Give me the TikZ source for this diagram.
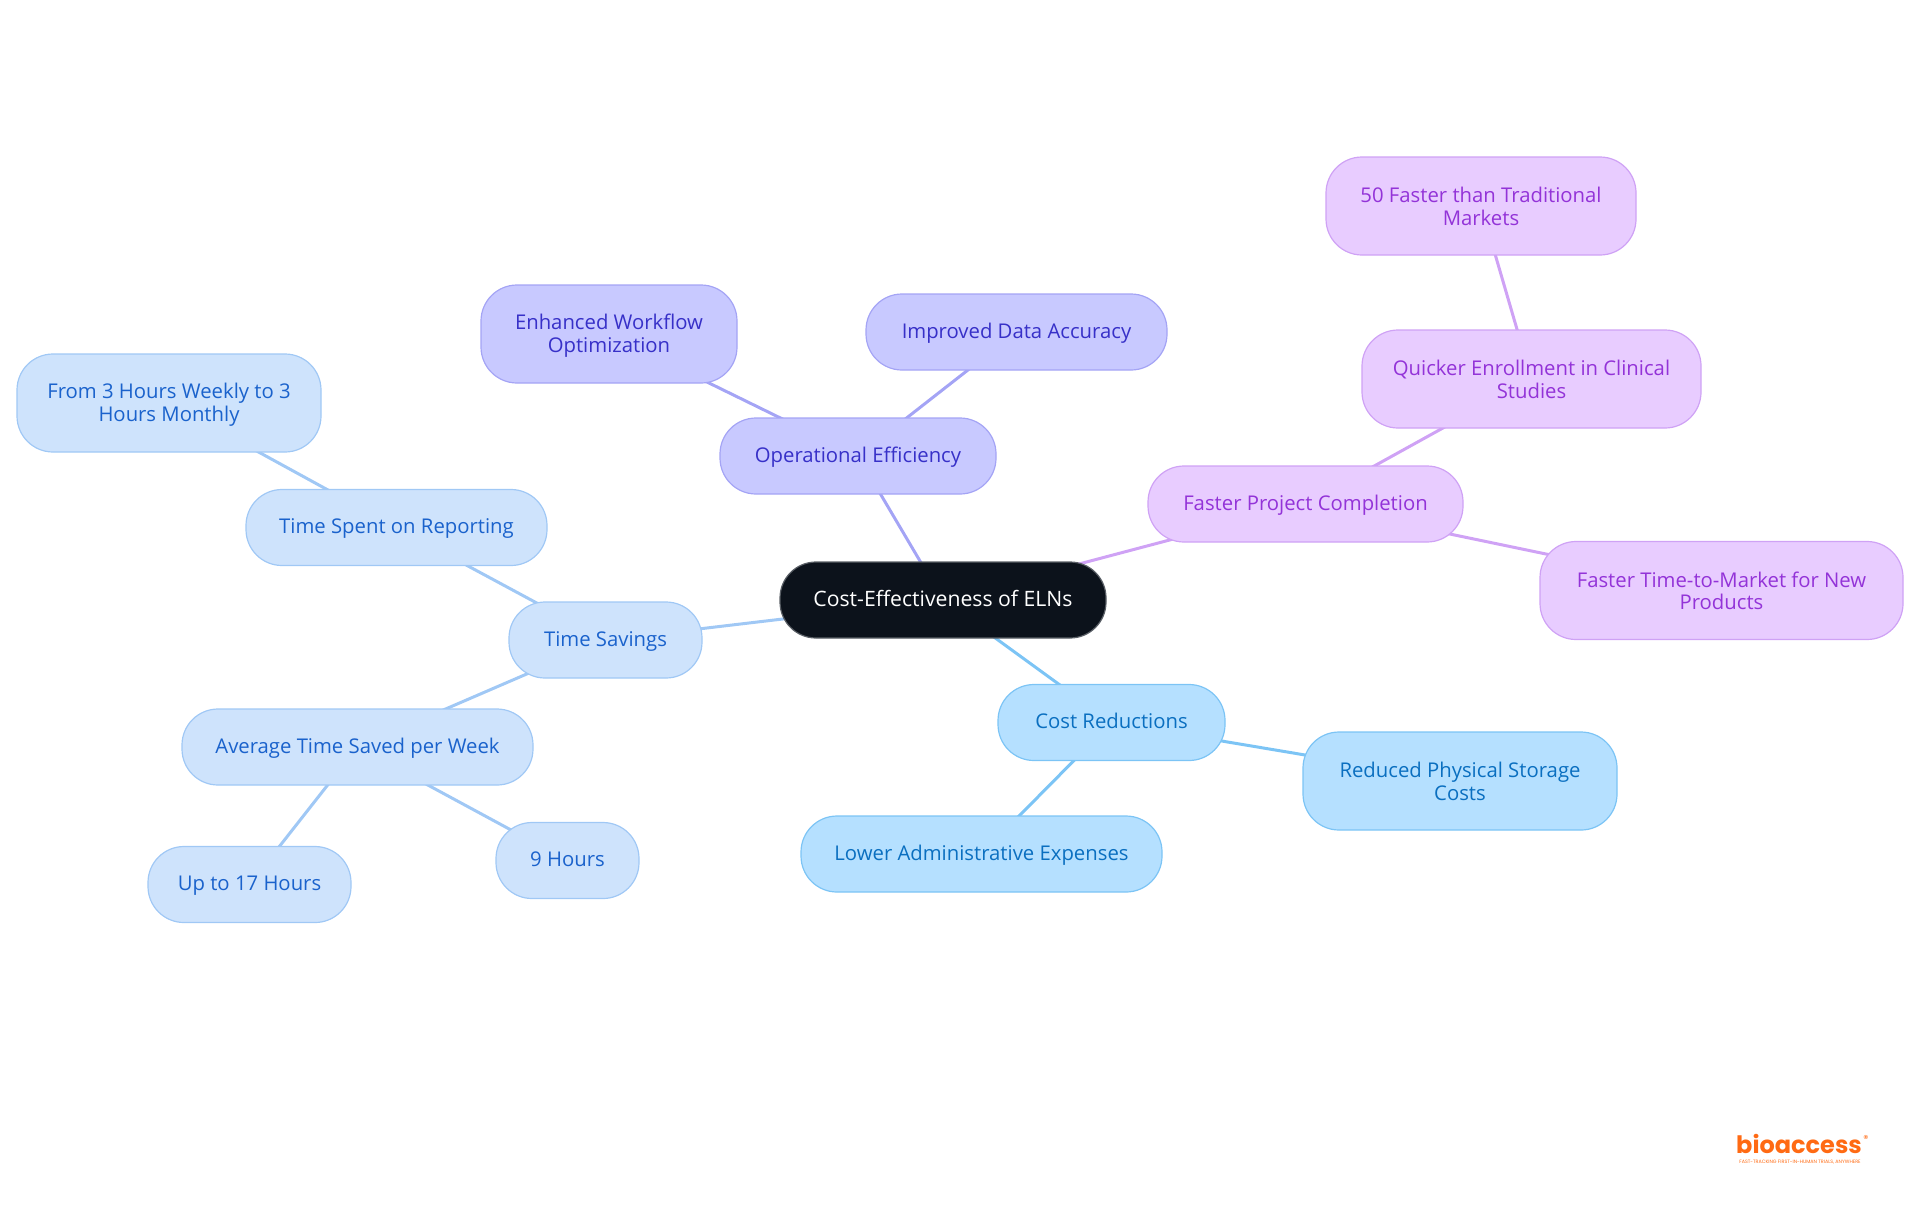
\documentclass[tikz,border=0pt]{standalone}
\usepackage{fontspec}
\setmainfont{Open Sans}
\newfontfamily\logofont{Poppins}
\usetikzlibrary{backgrounds}
\definecolor{rootfill}{HTML}{0C121B}
\definecolor{rootline}{HTML}{5A5F66}
\definecolor{savefill}{HTML}{CEE3FC}
\definecolor{saveline}{HTML}{A0C8F5}
\definecolor{savetext}{HTML}{1A62CC}
\definecolor{costfill}{HTML}{B5E0FF}
\definecolor{costline}{HTML}{7CC4F5}
\definecolor{costtext}{HTML}{0A6FC0}
\definecolor{operfill}{HTML}{C8C9FF}
\definecolor{operline}{HTML}{A4A4F5}
\definecolor{opertext}{HTML}{3730C8}
\definecolor{fastfill}{HTML}{E8CCFF}
\definecolor{fastline}{HTML}{CFA2F5}
\definecolor{fasttext}{HTML}{9333D8}
\definecolor{logoorange}{HTML}{FF6A13}
\newcommand{\twolines}[2]{\rule{0pt}{9.4pt}#1\\#2\rule[-1.5pt]{0pt}{1.5pt}}
\tikzset{
    topic/.style={rectangle, rounded corners=18pt, line width=0.6pt, align=center, inner sep=0pt,
        minimum height=38pt, text height=8pt, text depth=2pt, font=\fontsize{10.15}{11.4}\selectfont},
    tall/.style={minimum height=49pt, text height=, text depth=},
    rootbox/.style={topic, fill=rootfill, draw=rootline, text=white, font=\fontsize{10.6}{11.4}\selectfont},
    savebox/.style={topic, fill=savefill, draw=saveline, text=savetext},
    costbox/.style={topic, fill=costfill, draw=costline, text=costtext},
    operbox/.style={topic, fill=operfill, draw=operline, text=opertext},
    fastbox/.style={topic, fill=fastfill, draw=fastline, text=fasttext},
    branch/.style={line width=1.5pt}
}
\begin{document}
\begin{tikzpicture}[x=0.5pt, y=-0.5pt]
        \useasboundingbox (0, 0) rectangle (1920, 1215);

        \node[rootbox, minimum width=163pt] (root) at (943, 600) {Cost-Effectiveness of ELNs};

        \node[operbox, minimum width=138pt] (oper) at (858, 456) {Operational Efficiency};
        \node[operbox, tall, minimum width=128pt] (workflow) at (609, 334) {\twolines{Enhanced Workflow}{Optimization}};
        \node[operbox, minimum width=150.5pt] (accuracy) at (1016.5, 332) {Improved Data Accuracy};

        \node[fastbox, minimum width=157.5pt] (fast) at (1305.5, 504) {Faster Project Completion};
        \node[fastbox, tall, minimum width=169.5pt] (enroll) at (1531.5, 379) {\twolines{Quicker Enrollment in Clinical}{Studies}};
        \node[fastbox, tall, minimum width=155pt] (markets) at (1481, 206) {\twolines{50 Faster than Traditional}{Markets}};
        \node[fastbox, tall, minimum width=181.5pt] (market) at (1721.5, 590.5) {\twolines{Faster Time-to-Market for New}{Products}};

        \node[costbox, minimum width=113.5pt] (cost) at (1111.5, 722.5) {Cost Reductions};
        \node[costbox, tall, minimum width=157pt] (storage) at (1460, 781) {\twolines{Reduced Physical Storage}{Costs}};
        \node[costbox, minimum width=180.5pt] (admin) at (981.5, 854) {Lower Administrative Expenses};

        \node[savebox, minimum width=96.5pt] (save) at (605.5, 640) {Time Savings};
        \node[savebox, minimum width=150.5pt] (report) at (396.5, 527.5) {Time Spent on Reporting};
        \node[savebox, tall, minimum width=152pt] (hours) at (169, 403) {\twolines{From 3 Hours Weekly to 3}{Hours Monthly}};
        \node[savebox, minimum width=175.5pt] (average) at (357.5, 747) {Average Time Saved per Week};
        \node[savebox, minimum width=101.5pt] (upto) at (249.5, 884.5) {Up to 17 Hours};
        \node[savebox, minimum width=71.5pt] (nine) at (567.5, 860.5) {9 Hours};

        \node[text=logoorange, inner sep=0pt, font=\logofont\bfseries\fontsize{12}{12}\selectfont] (logo) at (1799, 1144) {bioaccess};
        \node[text=logoorange, inner sep=0pt, font=\logofont\fontsize{5}{5}\selectfont] (logomark) at (1866, 1139) {®};
        \node[text=logoorange, inner sep=0pt, font=\logofont\fontsize{2.4}{3}\selectfont] (tagline) at (1800, 1162) {FAST-TRACKING FIRST-IN-HUMAN TRIALS, ANYWHERE};

        \begin{scope}[on background layer]
            \draw[branch, operline] (root.center) -- (oper.center);
            \draw[branch, operline] (oper.center) -- (workflow.center);
            \draw[branch, operline] (oper.center) -- (accuracy.center);
            \draw[branch, fastline] (root.center) -- (fast.center);
            \draw[branch, fastline] (fast.center) -- (enroll.center);
            \draw[branch, fastline] (enroll.center) -- (markets.center);
            \draw[branch, fastline] (fast.center) -- (market.center);
            \draw[branch, costline] (root.center) -- (cost.center);
            \draw[branch, costline] (cost.center) -- (storage.center);
            \draw[branch, costline] (cost.center) -- (admin.center);
            \draw[branch, saveline] (root.center) -- (save.center);
            \draw[branch, saveline] (save.center) -- (report.center);
            \draw[branch, saveline] (report.center) -- (hours.center);
            \draw[branch, saveline] (save.center) -- (average.center);
            \draw[branch, saveline] (average.center) -- (upto.center);
            \draw[branch, saveline] (average.center) -- (nine.center);
        \end{scope}
    \end{tikzpicture}
\end{document}
